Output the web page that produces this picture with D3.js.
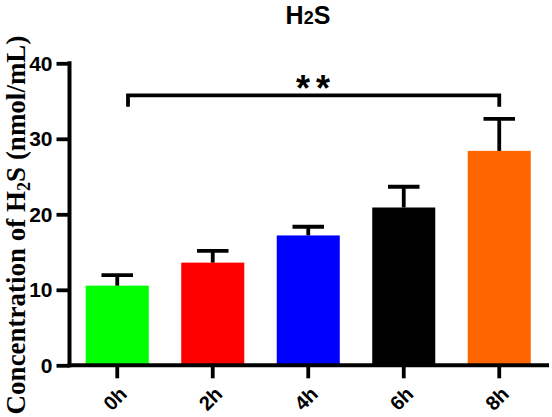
<!DOCTYPE html>
<html>
<head>
<meta charset="utf-8">
<script src="https://cdn.jsdelivr.net/npm/d3@7/dist/d3.min.js"></script>
<style>
  html, body { margin: 0; padding: 0; background: #fff; }
  svg { display: block; }
</style>
</head>
<body>
<svg id="chart" width="552" height="417"></svg>
<script>
const categories = ["0h", "2h", "4h", "6h", "8h"];
const means = [10.55, 13.6, 17.2, 20.9, 28.4];
const errors = [1.4, 1.55, 1.15, 2.75, 4.25];
const colors = ["#00FF00", "#FF0000", "#0000FF", "#000000", "#FF6600"];
const yTicks = [0, 10, 20, 30, 40];
const sigLabel = "**";
const sigLevel = 35.75;
const sigDrop = 1.5;

const svg = d3.select("#chart");
const x0 = 69.5, x1 = 547, yBottom = 365.3, yTop = 63.3;

const x = d3.scaleBand().domain(categories).range([x0, x1]).paddingInner(0.34).paddingOuter(0.17);
const y = d3.scaleLinear().domain([0, 40]).range([yBottom, yTop]);

// bars
svg.append("g").selectAll("rect").data(categories).join("rect")
  .attr("x", d => x(d))
  .attr("y", (d, i) => y(means[i]))
  .attr("width", x.bandwidth())
  .attr("height", (d, i) => y(0) - y(means[i]))
  .attr("fill", (d, i) => colors[i]);

// error bars
const eb = svg.append("g").attr("stroke", "#000").attr("stroke-width", 3.8);
categories.forEach((c, i) => {
  const cx = x(c) + x.bandwidth() / 2;
  eb.append("line").attr("x1", cx).attr("x2", cx).attr("y1", y(means[i])).attr("y2", y(means[i] + errors[i]));
  eb.append("line").attr("x1", cx - x.bandwidth() / 4).attr("x2", cx + x.bandwidth() / 4)
    .attr("y1", y(means[i] + errors[i])).attr("y2", y(means[i] + errors[i]));
});

// y axis
const yAxis = svg.append("g").attr("transform", `translate(${x0},0)`)
  .call(d3.axisLeft(y).tickValues(yTicks).tickSize(13).tickSizeOuter(0).tickPadding(4));
yAxis.select(".domain").attr("stroke-width", 4).attr("d", `M0,${yTop - 2}V${yBottom + 2}`);
yAxis.selectAll(".tick line").attr("stroke-width", 3.8);
yAxis.selectAll(".tick text").attr("font-family", "Liberation Sans, Arial, sans-serif")
  .attr("font-weight", "bold").attr("font-size", 21).attr("fill", "#000").attr("dy", "0.34em");

// x axis
const xAxis = svg.append("g").attr("transform", `translate(0,${yBottom})`)
  .call(d3.axisBottom(x).tickSize(13).tickSizeOuter(0));
xAxis.select(".domain").attr("stroke-width", 4).attr("d", `M${x0 - 2},0H${549}`);
xAxis.selectAll(".tick line").attr("stroke-width", 3.8);
xAxis.selectAll(".tick text").attr("font-family", "Liberation Sans, Arial, sans-serif")
  .attr("font-weight", "bold").attr("font-size", 20).attr("fill", "#000")
  .attr("text-anchor", "end").attr("x", 0).attr("y", 0).attr("dy", "0.35em")
  .attr("transform", "translate(6,25) rotate(-45)");

// significance bracket
const bx1 = 128, bx2 = x("8h") + x.bandwidth() / 2;
svg.append("path")
  .attr("d", `M${bx1},${y(sigLevel - sigDrop)}V${y(sigLevel)}H${bx2}V${y(sigLevel - sigDrop)}`)
  .attr("fill", "none").attr("stroke", "#000").attr("stroke-width", 3.8);
svg.append("text").attr("x", 316).attr("y", 101)
  .attr("text-anchor", "middle").attr("font-family", "Liberation Sans, Arial, sans-serif")
  .attr("font-weight", "bold").attr("font-size", 36).attr("letter-spacing", 6).text(sigLabel);

// title
const title = svg.append("text").attr("x", 308).attr("y", 24).attr("text-anchor", "middle")
  .attr("font-family", "Liberation Sans, Arial, sans-serif").attr("font-weight", "bold").attr("font-size", 25);
title.append("tspan").text("H");
title.append("tspan").attr("font-size", 18).text("2");
title.append("tspan").text("S");

// y axis label
const yl = svg.append("text").attr("transform", "translate(25,225) rotate(-90)").attr("text-anchor", "middle")
  .attr("font-family", "Liberation Serif, Times New Roman, serif").attr("font-weight", "bold").attr("font-size", 27);
yl.append("tspan").text("Concentration of H");
yl.append("tspan").attr("font-size", 18).attr("dy", 5).text("2");
yl.append("tspan").attr("dy", -5).text("S (nmol/mL)");
</script>
</body>
</html>
